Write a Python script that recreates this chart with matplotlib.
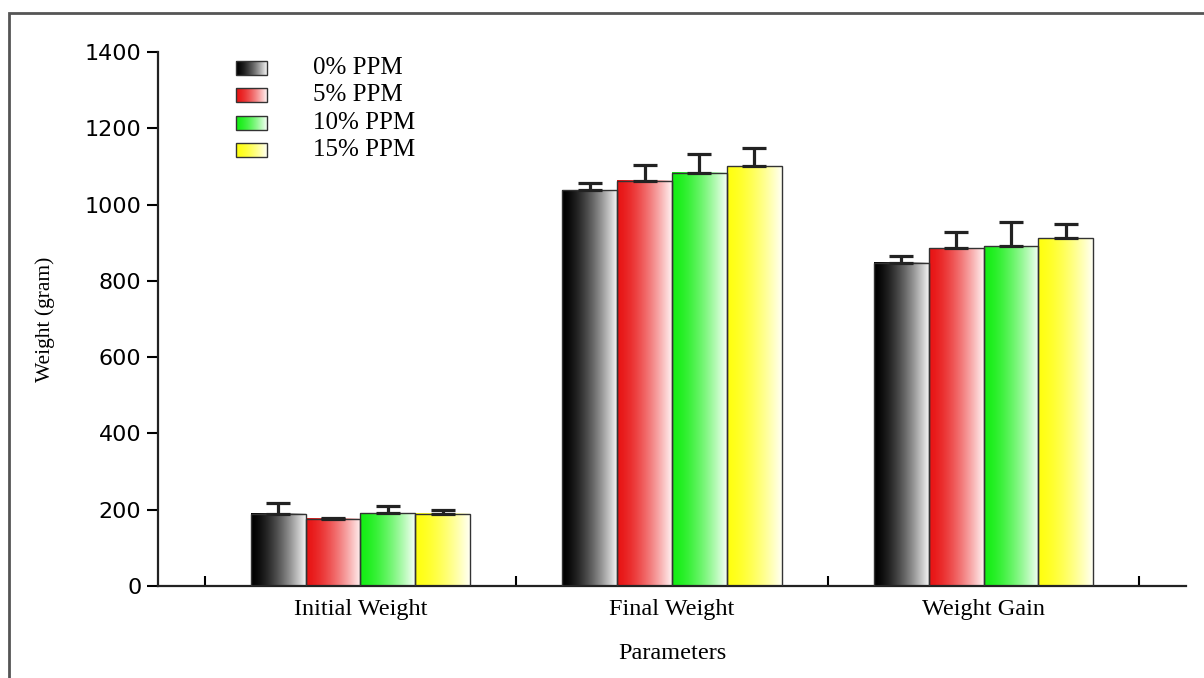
import numpy as np
import matplotlib.pyplot as plt
from matplotlib.patches import Rectangle
from matplotlib.colors import to_rgb

categories = ["Initial Weight", "Final Weight", "Weight Gain"]
groups = ["0% PPM", "5% PPM", "10% PPM", "15% PPM"]
means = {
    "0% PPM":  [189, 1038, 847],
    "5% PPM":  [176, 1062, 886],
    "10% PPM": [191, 1083, 891],
    "15% PPM": [189, 1101, 912],
}
errors = {
    "0% PPM":  [29, 19, 18],
    "5% PPM":  [2, 42, 42],
    "10% PPM": [19, 50, 63],
    "15% PPM": [10, 47, 37],
}
# left (saturated) and right (faded) colours of each gradient
grad_colors = {
    "0% PPM":  ("#000000", "#f4f4f4"),
    "5% PPM":  ("#e81414", "#fff2f2"),
    "10% PPM": ("#14ee14", "#f6fff6"),
    "15% PPM": ("#ffff10", "#fffff4"),
}


def gradient(c0, c1, n=256):
    a = np.array(to_rgb(c0))
    b = np.array(to_rgb(c1))
    t = np.linspace(0, 1, n) ** 1.5
    row = a[None, :] * (1 - t[:, None]) + b[None, :] * t[:, None]
    return row[None, :, :]


plt.rcParams['font.family'] = ['Liberation Serif', 'DejaVu Serif']

fig = plt.figure(figsize=(12.04, 6.78), dpi=100)
ax = fig.add_axes([158 / 1204, 1 - 586 / 678, 1028 / 1204, 534 / 678])

x = np.arange(1, len(categories) + 1)
w = 0.176
for i, g in enumerate(groups):
    xs = x + (i - 1.5) * w
    for xc, h, e in zip(xs, means[g], errors[g]):
        x0, x1 = xc - w / 2, xc + w / 2
        ax.imshow(gradient(*grad_colors[g]), extent=[x0, x1, 0, h],
                  aspect='auto', interpolation='bilinear', zorder=2)
        ax.add_patch(Rectangle((x0, 0), w, h, fill=False, ec='#333333',
                               lw=1.0, zorder=3))
    ax.errorbar(xs, means[g], yerr=[np.zeros(3), errors[g]], fmt='none',
                ecolor='#222222', elinewidth=2.3, capsize=8.5, capthick=2.3,
                zorder=4)

ax.set_xlim(0.35, 3.65)
ax.set_ylim(0, 1400)
ax.spines['top'].set_visible(False)
ax.spines['right'].set_visible(False)
for s in ('left', 'bottom'):
    ax.spines[s].set_linewidth(1.6)
    ax.spines[s].set_color('#222222')

ax.set_yticks(np.arange(0, 1401, 200))
ax.tick_params(axis='y', direction='out', length=8, width=1.5,
               labelsize=16, pad=4)
for lab in ax.get_yticklabels():
    lab.set_fontfamily('DejaVu Sans')

ax.set_xticks(np.arange(0.5, 3.6, 1.0))
ax.set_xticklabels([])
ax.tick_params(axis='x', direction='in', length=7, width=1.5)
ax.set_xticks(x, minor=True)
ax.set_xticklabels(categories, minor=True, fontsize=17.5)
ax.tick_params(axis='x', which='minor', length=0, pad=9)

ax.set_xlabel("Parameters", fontsize=17.5, labelpad=17)
ax.set_ylabel("Weight (gram)", fontsize=15.5)
ax.yaxis.set_label_coords(-0.100, 0.5)

# legend with gradient swatches
ly = [0.970, 0.919, 0.867, 0.816]
for g, yy in zip(groups, ly):
    ax.imshow(gradient(*grad_colors[g]), extent=[0.076, 0.106, yy - 0.013, yy + 0.013],
              transform=ax.transAxes, aspect='auto', interpolation='bilinear',
              zorder=5, clip_on=False)
    ax.add_patch(Rectangle((0.076, yy - 0.013), 0.030, 0.026, transform=ax.transAxes,
                           fill=False, ec='#333333', lw=1.0, zorder=6))
    ax.text(0.151, yy, g, transform=ax.transAxes, fontsize=18, va='center')

ax.set_xlim(0.35, 3.65)
ax.set_ylim(0, 1400)

# outer frame
fig.patches.append(Rectangle((9 / 1204, -0.1), 1.2, 1 - 13 / 678 + 0.1,
                             transform=fig.transFigure, fill=False,
                             ec='#555555', lw=2))

fig.savefig("out.png", dpi=100)
